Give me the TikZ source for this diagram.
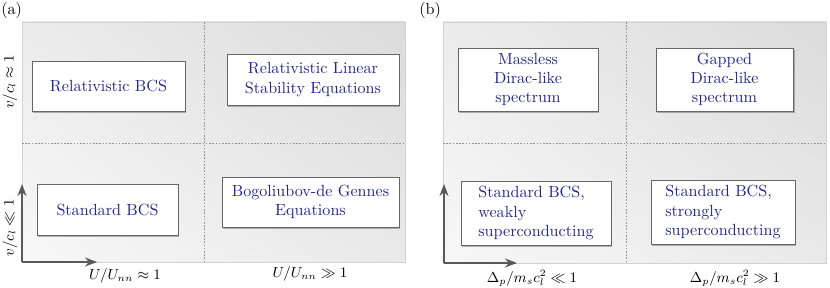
\documentclass[tikz,border=0pt]{standalone}
\usepackage{amsmath}
\usepackage{amssymb}
\usepackage{xcolor}
\usetikzlibrary{arrows.meta, shadows, shadings}
\definecolor{txtblue}{RGB}{38,38,140}

\begin{document}
\begin{tikzpicture}[x=0.62pt, y=-0.62pt, >=Stealth,
    b/.style={draw=black!60, fill=white, line width=0.5pt, text=txtblue,
              drop shadow={opacity=0.6, shadow xshift=0.9pt, shadow yshift=-1.1pt},
              align=center, inner sep=2pt},
    sep/.style={gray!85, dash pattern=on 1pt off 1pt, line width=0.5pt},
    frame/.style={draw=gray!35, lower left=gray!6, upper right=gray!28,
                  upper left=gray!15, lower right=gray!17},
    ax/.style={->, black!65, line width=1pt},
    lab/.style={font=\small, inner sep=0.5pt}]
  \useasboundingbox (0,0) rectangle (830,288);

  % (a)
  \node[anchor=north west, inner sep=0pt] (pa) at (1,2) {(a)};
  \shade[frame] (22,22) rectangle (405,262);
  \draw[sep] (204,22) -- (204,262);
  \draw[sep] (22,143) -- (405,143);
  \coordinate (oa) at (22,262);
  \coordinate (ya) at (22,184);
  \coordinate (xa) at (97,262);
  \draw[ax] (oa) -- (ya);
  \draw[ax] (oa) -- (xa);
  \node[b, minimum width=94.9pt, minimum height=31pt] (rbcs) at (108.5,86) {Relativistic BCS};
  \node[b, minimum width=106.6pt, minimum height=31.6pt] (rlse) at (313,79.5)
        {Relativistic Linear\\Stability Equations};
  \node[b, minimum width=87.4pt, minimum height=31.6pt] (sbcs) at (107.5,209.5) {Standard BCS};
  \node[b, minimum width=109.7pt, minimum height=31pt] (bdg) at (310.5,202)
        {Bogoliubov-de Gennes\\Equations};
  \node[lab] (xa1) at (125,276) {$U/U_{nn}\approx 1$};
  \node[lab] (xa2) at (310,274) {$U/U_{nn}\gg 1$};
  \node[lab, rotate=90] (ya1) at (10,82) {$v/c_l\approx 1$};
  \node[lab, rotate=90] (ya2) at (10,228) {$v/c_l\ll 1$};

  % (b)
  \node[anchor=north west, inner sep=0pt] (pb) at (419,2) {(b)};
  \shade[frame] (443,22) rectangle (826,263);
  \draw[sep] (626,22) -- (626,263);
  \draw[sep] (443,143) -- (826,143);
  \coordinate (ob) at (444,263);
  \coordinate (yb) at (444,184);
  \coordinate (xb) at (517,263);
  \draw[ax] (ob) -- (yb);
  \draw[ax] (ob) -- (xb);
  \node[b, minimum width=86.8pt, minimum height=39pt] (mdl) at (528,79.5)
        {Massless\\Dirac-like\\spectrum};
  \node[b, minimum width=85pt, minimum height=39pt] (gdl) at (724.5,79.5)
        {Gapped\\Dirac-like\\spectrum};
  \node[b, align=left, minimum width=93pt, minimum height=39.7pt] (wsc) at (536,213)
        {Standard BCS,\\weakly\\superconducting};
  \node[b, align=left, minimum width=89.3pt, minimum height=39.7pt] (ssc) at (723,212)
        {Standard BCS,\\strongly\\superconducting};
  \node[lab] (xb1) at (532,278) {$\Delta_p/m_s c_l^2\ll 1$};
  \node[lab] (xb2) at (735,278) {$\Delta_p/m_s c_l^2\gg 1$};
\end{tikzpicture}
\end{document}
